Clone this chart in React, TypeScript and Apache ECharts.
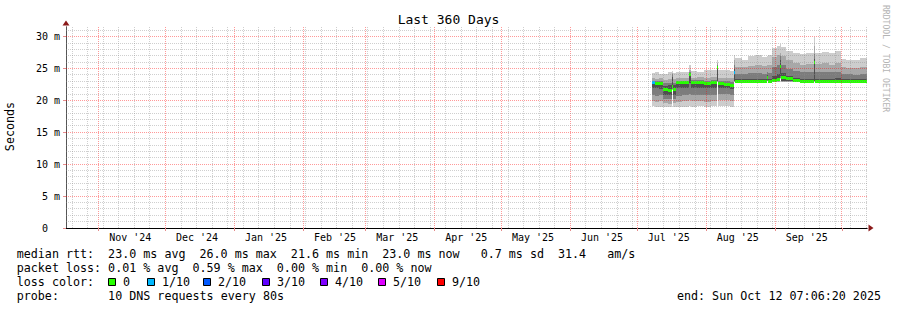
import { useEffect, useRef } from 'react';
import * as echarts from 'echarts';

const FONT = 'DejaVu Sans Mono';

// time range (360 days ending at the "end" stamp)
const START = Date.UTC(2024, 9, 17, 7, 6, 20);
const END = Date.UTC(2025, 9, 12, 7, 6, 20);
const Y_MAX = 31.52;

// axis ticks / labels
const monthStarts = ['2024-11-01', '2024-12-01', '2025-01-01', '2025-02-01', '2025-03-01', '2025-04-01', '2025-05-01', '2025-06-01', '2025-07-01', '2025-08-01', '2025-09-01', '2025-10-01'];
const monthLabels = ["Nov '24", "Dec '24", "Jan '25", "Feb '25", "Mar '25", "Apr '25", "May '25", "Jun '25", "Jul '25", "Aug '25", "Sep '25", "Oct '25"];
const yTicks = [0, 5, 10, 15, 20, 25, 30];

// smoke columns (start of each column, 2025 MM-DD HH); each holds until the next one
const colStart = ['07-07 12', '07-09 00', '07-11 00', '07-12 20', '07-14 18', '07-16 12', '07-17 00', '07-18 12', '07-21 00', '07-24 12',
  '07-25 00', '07-28 00', '07-31 00', '08-03 00', '08-05 18', '08-06 06', '08-09 00', '08-11 12', '08-13 12', '08-14 00',
  '08-17 00', '08-20 00', '08-23 00', '08-26 00', '08-28 06', '08-28 18', '08-30 12', '09-02 00', '09-03 06', '09-03 18',
  '09-06 00', '09-09 00', '09-12 00', '09-15 00', '09-18 12', '09-19 00', '09-22 00', '09-25 00', '09-28 00', '09-30 12',
  '10-03 00', '10-06 00', '10-09 00'];

// sorted ping levels (ms): q0 = min ... q4 = median ... q8 = max
const q0 = [19.2, 19.0, 19.0, 18.9, 18.9, 21.6, 18.9, 19.0, 19.0, 19.2, 19.0, 19.1, 19.0, 19.1, 22.9, 19.1, 19.1, 19.0, 22.9, 22.95,
  22.95, 22.95, 22.95, 22.95, 23.0, 22.95, 22.95, 22.95, 23.4, 22.95, 22.95, 22.95, 22.95, 22.95, 22.95, 22.95, 22.95, 22.95, 22.95, 22.95,
  22.95, 22.95, 22.95];
const q1 = [19.9, 19.8, 19.9, 19.6, 19.5, 21.7, 19.6, 19.8, 19.9, 20.0, 19.9, 19.9, 19.8, 19.9, 22.95, 20.0, 20.0, 19.9, 22.95, 22.97,
  22.97, 22.97, 22.97, 22.97, 23.05, 22.97, 22.97, 22.97, 23.5, 22.97, 22.97, 22.97, 22.97, 22.97, 23.0, 22.97, 22.97, 22.97, 22.97, 22.97,
  22.97, 22.97, 22.97];
const q2 = [20.8, 20.7, 20.8, 20.3, 20.2, 21.8, 20.3, 20.7, 20.8, 21.0, 20.8, 20.9, 20.8, 20.9, 23.0, 21.0, 21.0, 20.9, 23.0, 22.99,
  22.99, 22.99, 22.99, 22.99, 23.1, 22.99, 22.99, 22.99, 23.6, 22.99, 22.99, 22.99, 22.99, 22.99, 23.05, 22.99, 22.99, 22.99, 22.99, 22.99,
  22.99, 22.99, 22.99];
const q3 = [21.9, 21.9, 21.8, 20.9, 20.8, 22.0, 20.9, 21.9, 21.9, 22.8, 21.9, 22.0, 21.9, 21.9, 23.1, 21.9, 21.9, 21.8, 23.1, 23.01,
  23.01, 23.01, 23.01, 23.01, 23.2, 23.01, 23.01, 23.01, 23.8, 23.01, 23.01, 23.01, 23.01, 23.01, 23.1, 23.01, 23.01, 23.01, 23.01, 23.01,
  23.01, 23.01, 23.01];
const q4 = [22.8, 22.7, 22.6, 21.7, 21.6, 22.2, 21.7, 22.8, 22.8, 24.1, 22.8, 22.8, 22.7, 22.8, 25.2, 22.6, 22.5, 22.4, 24.4, 23.05,
  23.05, 23.05, 23.05, 23.05, 23.6, 23.05, 23.2, 23.3, 25.4, 23.6, 23.4, 23.1, 23.05, 23.05, 26.0, 23.05, 23.05, 23.05, 23.05, 23.05,
  23.05, 23.05, 23.05];
const q5 = [22.95, 22.85, 22.8, 22.3, 22.4, 23.7, 22.4, 22.9, 22.9, 24.3, 22.9, 22.9, 22.85, 22.9, 25.4, 22.8, 22.7, 22.6, 25.0, 23.35,
  23.3, 23.4, 23.4, 23.4, 24.0, 23.4, 23.9, 24.2, 26.4, 24.3, 23.9, 23.5, 23.4, 23.4, 26.5, 23.4, 23.4, 23.4, 23.5, 23.3,
  23.3, 23.3, 23.3];
const q6 = [23.1, 23.0, 23.0, 22.7, 22.8, 24.1, 22.8, 23.1, 23.1, 24.5, 23.2, 23.2, 23.1, 23.2, 25.6, 23.1, 23.0, 22.9, 25.6, 24.2,
  24.1, 24.3, 24.3, 24.2, 24.5, 24.3, 25.2, 25.6, 26.9, 25.5, 25.0, 24.6, 24.4, 24.4, 27.3, 24.4, 24.5, 24.4, 24.5, 24.1,
  24.1, 24.0, 24.1];
const q7 = [23.5, 23.4, 23.5, 23.2, 23.3, 24.3, 23.3, 23.5, 23.6, 24.8, 23.6, 23.7, 23.6, 23.7, 25.9, 23.6, 23.6, 23.5, 26.3, 25.3,
  25.2, 25.4, 25.5, 25.4, 25.5, 25.5, 26.8, 27.1, 27.5, 27.0, 26.3, 25.8, 25.6, 25.7, 28.5, 25.7, 25.8, 25.6, 25.8, 25.2,
  25.1, 25.1, 25.2];
const q8 = [24.3, 24.4, 24.2, 24.2, 24.4, 24.6, 24.3, 24.4, 24.5, 25.5, 24.6, 24.5, 24.7, 24.8, 26.3, 24.8, 24.7, 24.6, 27.1, 26.6,
  26.3, 26.9, 27.1, 26.8, 27.0, 27.2, 28.3, 28.5, 28.9, 28.4, 27.8, 27.5, 27.3, 27.4, 30.0, 27.5, 27.6, 27.4, 27.8, 26.5,
  26.3, 26.4, 26.6];
// index into lossLevels for each column
const lossIdx = [1, 0, 0, 0, 0, 0, 0, 0, 0, 0, 0, 0, 0, 0, 0, 0, 0, 0, 1, 0,
  0, 0, 0, 0, 0, 0, 0, 0, 0, 0, 0, 0, 0, 0, 0, 0, 0, 0, 0, 0,
  0, 0, 0];

const lossLevels = ['0', '1/10', '2/10', '3/10', '4/10', '5/10', '9/10'];
const lossColors = ['#26ff00', '#00b8ff', '#0059ff', '#5e00ff', '#7e00ff', '#dd00ff', '#ff0000'];

const rttStats = ['23.0 ms avg', '26.0 ms max', '21.6 ms min', '23.0 ms now', '0.7 ms sd', '31.4', 'am/s'];
const lossStats = ['0.01 % avg', '0.59 % max', '0.00 % min', '0.00 % now'];
const probeText = '10 DNS requests every 80s';
const endText = 'end: Sun Oct 12 07:06:20 2025';

const SMOKE = ['#cdcdcd', '#a8a8a8', '#7c7c7c', '#4f4f4f', '#4f4f4f', '#7c7c7c', '#a8a8a8', '#cdcdcd'];
const DAY = 86400000;

function parseCol(s: string) {
  const [md, hh] = s.split(' ');
  const [m, d] = md.split('-').map(Number);
  return Date.UTC(2025, m - 1, d, Number(hh));
}
function parseDay(s: string) {
  const [y, m, d] = s.split('-').map(Number);
  return Date.UTC(y, m - 1, d);
}

function buildOption() {
  const qs = [q0, q1, q2, q3, q4, q5, q6, q7, q8];
  const starts = colStart.map(parseCol);
  const smokeData = starts.map((t, i) => [t, i + 1 < starts.length ? starts[i + 1] : END, ...qs.map((q) => q[i])]);
  const medianData = starts.map((t, i) => [t, i + 1 < starts.length ? starts[i + 1] : END, q4[i], lossIdx[i]]);

  const monthTs = monthStarts.map(parseDay);
  const labelTs: number[] = [];
  const labelMap = new Map<number, string>();
  monthTs.forEach((t, i) => {
    const c = t + 14.2 * DAY;
    if (c > START && c < END) {
      labelTs.push(c);
      labelMap.set(c, monthLabels[i]);
    }
  });

  // vertical grid: weekly (Sundays) minor, month starts major
  const vGrid: number[][] = [];
  let t = Date.UTC(2024, 9, 17);
  while (new Date(t).getUTCDay() !== 0) t += DAY;
  const monthSet = new Set(monthTs);
  for (; t < END; t += 7 * DAY) if (t > START && !monthSet.has(t)) vGrid.push([t, 0, 0]);
  monthTs.forEach((m) => { if (m > START && m < END) vGrid.push([m, 0, 1]); });
  // horizontal grid: 1 ms minor, 5 ms major
  const hGrid: number[][] = [];
  for (let v = 1; v < Y_MAX; v++) hGrid.push([START, v, v % 5 === 0 ? 1 : 0]);

  const MINOR = 'rgba(140,140,140,0.42)';
  const MAJOR = 'rgba(255,0,0,0.40)';

  const txt = (x: number, y: number, text: string, size = 11.7, extra: any = {}) => ({
    type: 'text', x, y, silent: true,
    style: {
      text, fill: '#000', font: `${size}px "${FONT}"`,
      textAlign: 'left', align: 'left', textVerticalAlign: 'middle', verticalAlign: 'middle', ...extra,
    },
  });
  const CW = 7.03;
  const LX = 16.7;
  const rows = [254.3, 268.3, 282.3, 296.3];
  const graphics: any[] = [];
  graphics.push(txt(448.5, 19.5, 'Last 360 Days', 13, { textAlign: 'center', align: 'center' }));
  graphics.push({ ...txt(10, 126.5, 'Seconds', 11.7, { textAlign: 'center', align: 'center' }), rotation: Math.PI / 2 });
  graphics.push({ ...txt(886, 5, 'RRDTOOL / TOBI OETIKER', 8.1, { fill: '#b4b4b4' }), rotation: -Math.PI / 2 });
  const row0: [number, string][] = [[0, 'median rtt:'], [13, rttStats[0]], [26, rttStats[1]], [39, rttStats[2]], [52, rttStats[3]], [66, rttStats[4]], [77, rttStats[5]], [84, rttStats[6]]];
  row0.forEach(([c, s]) => graphics.push(txt(LX + c * CW, rows[0], s)));
  const row1: [number, string][] = [[0, 'packet loss:'], [13, lossStats[0]], [25, lossStats[1]], [37, lossStats[2]], [49, lossStats[3]]];
  row1.forEach(([c, s]) => graphics.push(txt(LX + c * CW, rows[1], s)));
  graphics.push(txt(LX, rows[2], 'loss color:'));
  const boxX = [108, 147, 203, 262, 320, 378, 437];
  lossLevels.forEach((lv, i) => {
    graphics.push({ type: 'rect', silent: true, shape: { x: boxX[i] + 0.5, y: 278.5, width: 7, height: 7 }, style: { fill: lossColors[i], stroke: '#000', lineWidth: 1 } });
    graphics.push(txt(boxX[i] + 15, rows[2], lv));
  });
  graphics.push(txt(LX, rows[3], 'probe:'));
  graphics.push(txt(LX + 13 * CW, rows[3], probeText));
  graphics.push(txt(881, rows[3], endText, 11.7, { textAlign: 'right', align: 'right' }));

  const yFmt = (v: number) => (v === 0 ? '0\u00a0\u00a0' : v % 5 === 0 && v <= 30 ? `${v}\u00a0m` : '');
  const ARROW = '#8b1a1a';

  return {
    animation: false,
    backgroundColor: '#ffffff',
    textStyle: { fontFamily: FONT },
    grid: { left: 66, right: 30, top: 27, bottom: 82, containLabel: false },
    xAxis: [
      {
        type: 'value', min: START, max: END, z: 1, position: 'bottom',
        axisLine: { show: true, lineStyle: { color: '#000', width: 1 } },
        axisTick: { show: true, customValues: monthTs.filter((m) => m > START && m < END), length: 3, lineStyle: { color: '#e58c8c' } },
        axisLabel: {
          show: true, customValues: labelTs, formatter: (v: number) => labelMap.get(v) ?? '',
          fontFamily: FONT, fontSize: 10, color: '#000', margin: 4,
        },
        splitLine: { show: false },
      },
      {
        type: 'value', min: START, max: END, z: 0, position: 'bottom', offset: 0,
        axisLine: { show: true, symbol: ['none', 'triangle'], symbolSize: [7, 5], symbolOffset: [0, 4], lineStyle: { color: ARROW } },
        axisTick: { show: false }, axisLabel: { show: false }, splitLine: { show: false },
      },
    ],
    yAxis: [
      {
        type: 'value', min: 0, max: Y_MAX, interval: 5, z: 1, position: 'left',
        axisLine: { show: true, lineStyle: { color: '#555', width: 1 } },
        axisTick: { show: true, customValues: yTicks, length: 3, lineStyle: { color: '#e58c8c' } },
        axisLabel: { customValues: yTicks, formatter: yFmt, fontFamily: FONT, fontSize: 10, color: '#000', margin: 6, showMaxLabel: true, showMinLabel: true },
        splitLine: { show: false },
      },
      {
        type: 'value', min: 0, max: Y_MAX, z: 0, position: 'left', offset: 0,
        axisLine: { show: true, symbol: ['none', 'triangle'], symbolSize: [7, 5], symbolOffset: [0, 4], lineStyle: { color: ARROW } },
        axisTick: { show: false }, axisLabel: { show: false }, splitLine: { show: false },
      },
    ],
    graphic: graphics,
    series: [
      {
        type: 'custom', name: 'smoke', silent: true, z: 2,
        xAxisIndex: 0, yAxisIndex: 0,
        data: smokeData,
        encode: { x: [0, 1], y: [2, 3, 4, 5, 6, 7, 8, 9, 10] },
        renderItem: (_p: any, api: any) => {
          const t0 = api.value(0), t1 = api.value(1);
          const xa = Math.round(api.coord([t0, 0])[0]);
          let xb = Math.round(api.coord([t1, 0])[0]);
          if (xb - xa < 1) xb = xa + 1;
          const children: any[] = [];
          for (let b = 0; b < 8; b++) {
            const lo = api.value(2 + b), hi = api.value(3 + b);
            const top = Math.round(api.coord([t0, hi])[1]);
            const bot = Math.round(api.coord([t0, lo])[1]);
            if (bot - top < 1) continue;
            children.push({ type: 'rect', shape: { x: xa, y: top, width: xb - xa, height: bot - top }, style: { fill: SMOKE[b] } });
          }
          return { type: 'group', children };
        },
      },
      {
        type: 'custom', name: 'median', silent: true, z: 3,
        xAxisIndex: 0, yAxisIndex: 0,
        data: medianData,
        encode: { x: [0, 1], y: 2 },
        renderItem: (_p: any, api: any) => {
          const t0 = api.value(0), t1 = api.value(1);
          const xa = Math.round(api.coord([t0, 0])[0]);
          let xb = Math.round(api.coord([t1, 0])[0]);
          if (xb - xa < 1) xb = xa + 1;
          const y = api.coord([t0, api.value(2)])[1];
          return { type: 'rect', shape: { x: xa, y: Math.round(y - 1.5), width: xb - xa, height: 3 }, style: { fill: lossColors[api.value(3)] } };
        },
      },
      {
        type: 'custom', name: 'vgrid', silent: true, z: 4,
        xAxisIndex: 0, yAxisIndex: 0,
        data: vGrid,
        encode: { x: 0, y: 1 },
        renderItem: (p: any, api: any) => {
          const cs = p.coordSys;
          const x = Math.floor(api.coord([api.value(0), 0])[0]) + 0.5;
          return {
            type: 'line', shape: { x1: x, y1: cs.y, x2: x, y2: cs.y + cs.height },
            style: { stroke: api.value(2) ? MAJOR : MINOR, lineWidth: 1, lineDash: [1, 1] },
          };
        },
      },
      {
        type: 'custom', name: 'hgrid', silent: true, z: 4,
        xAxisIndex: 0, yAxisIndex: 0,
        data: hGrid,
        encode: { x: 0, y: 1 },
        renderItem: (p: any, api: any) => {
          const cs = p.coordSys;
          const y = Math.floor(api.coord([START, api.value(1)])[1]) + 0.5;
          return {
            type: 'line', shape: { x1: cs.x, y1: y, x2: cs.x + cs.width, y2: y },
            style: { stroke: api.value(2) ? MAJOR : MINOR, lineWidth: 1, lineDash: [1, 1] },
          };
        },
      },
    ],
  };
}

export default function App() {
  const ref = useRef<HTMLDivElement>(null);
  useEffect(() => {
    if (!ref.current) return;
    const chart = echarts.init(ref.current, undefined, { renderer: 'svg', width: 897, height: 310 });
    chart.setOption(buildOption() as any);
    return () => chart.dispose();
  }, []);
  return <div ref={ref} style={{ position: 'fixed', left: 0, top: 0, width: 897, height: 310, background: '#fff' }} />;
}
